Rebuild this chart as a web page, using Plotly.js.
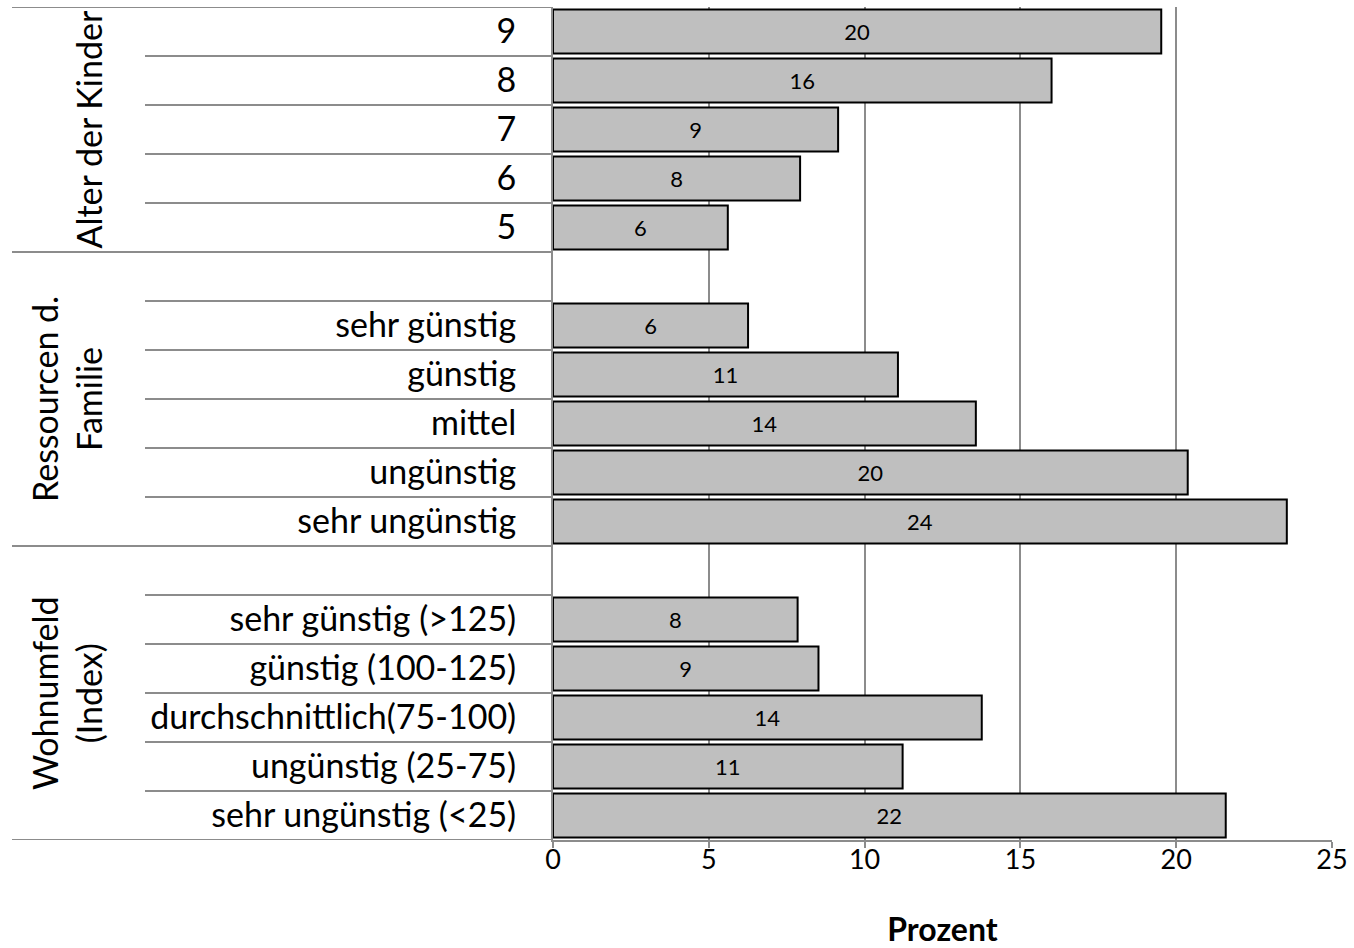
<!DOCTYPE html>
<html>
<head>
<meta charset="utf-8">
<script src="https://cdn.plot.ly/plotly-3.0.1.min.js"></script>
<style>
  html, body { margin: 0; padding: 0; background: #ffffff; }
  #chart { width: 1354px; height: 948px; }
</style>
</head>
<body>
<div id="chart"></div>
<script>
// Anteil (Prozent) nach Alter der Kinder, Ressourcen der Familie und Wohnumfeld
const alterLabels = ['9', '8', '7', '6', '5'];
const alterValues = [19.52, 16.0, 9.15, 7.93, 5.61];

const ressLabels = ['sehr günstig', 'günstig', 'mittel', 'ungünstig', 'sehr ungünstig'];
const ressValues = [6.26, 11.07, 13.57, 20.37, 23.55];

const wohnLabels = ['sehr günstig (>125)', 'günstig (100-125)', 'durchschnittlich(75-100)', 'ungünstig (25-75)', 'sehr ungünstig (<25)'];
const wohnValues = [7.85, 8.52, 13.76, 11.22, 21.59];

const groupTitles = ['Alter der Kinder', 'Ressourcen d.<br>Familie', 'Wohnumfeld<br>(Index)'];
const xTicks = [0, 5, 10, 15, 20, 25];
const xTitle = 'Prozent';

// ---- layout constants (pixels) ----
const W = 1354, H = 948;
const M = { l: 553, r: 22, t: 7, b: 108 };
const plotW = W - M.l - M.r;
const paperX = px => (px - M.l) / plotW;

const FONT = 'Lato, "Open Sans", "DejaVu Sans", sans-serif';
const LINE = '#8c8c8c';

// ---- row positions: one row per category, a blank row before each later group ----
const groupLabels = [alterLabels, ressLabels, wohnLabels];
const groupValues = [alterValues, ressValues, wohnValues];

const ys = [], xs = [], tickvals = [], ticktext = [];
const groupSpans = [];
let pos = 0;
groupLabels.forEach((labels, g) => {
  const start = pos - 0.5;
  if (g > 0) pos += 1;
  labels.forEach((lab, i) => {
    ys.push(pos);
    xs.push(groupValues[g][i]);
    tickvals.push(pos);
    ticktext.push(lab);
    pos += 1;
  });
  groupSpans.push([start, pos - 0.5]);
});

// ---- separator lines in the label area ----
const shapes = [];
const outerX0 = paperX(12), innerX0 = paperX(145), axisX = 0;
groupSpans.forEach(([a, b], g) => {
  if (g === 0) {
    shapes.push({ type: 'line', xref: 'paper', yref: 'y', x0: outerX0, x1: axisX, y0: a, y1: a,
                  line: { color: LINE, width: 2 } });
  }
  shapes.push({ type: 'line', xref: 'paper', yref: 'y', x0: outerX0, x1: axisX, y0: b, y1: b,
                line: { color: LINE, width: 2 } });
  for (let y = a + 1; y < b; y += 1) {
    shapes.push({ type: 'line', xref: 'paper', yref: 'y', x0: innerX0, x1: axisX, y0: y, y1: y,
                  line: { color: LINE, width: 2 } });
  }
});

// ---- rotated group titles ----
const annotations = groupTitles.map((t, g) => {
  const twoLines = t.indexOf('<br>') >= 0;
  return {
    xref: 'paper', yref: 'y',
    x: paperX(twoLines ? 66 : 88),
    y: (groupSpans[g][0] + groupSpans[g][1]) / 2,
    text: t, textangle: -90, showarrow: false,
    xanchor: 'center', yanchor: 'middle',
    font: { family: FONT, size: 34, color: '#000' }
  };
});

const trace = {
  type: 'bar', orientation: 'h',
  x: xs, y: ys, width: 0.9,
  marker: { color: '#bfbfbf', line: { color: '#000000', width: 2 } },
  texttemplate: '%{x:.0f}',
  textposition: 'inside', insidetextanchor: 'middle', textangle: 0,
  constraintext: 'none',
  textfont: { family: FONT, size: 22, color: '#000' },
  hoverinfo: 'x+text', showlegend: false
};

const layout = {
  width: W, height: H,
  margin: M,
  paper_bgcolor: '#ffffff', plot_bgcolor: '#ffffff',
  font: { family: FONT, color: '#000' },
  bargap: 0.1,
  xaxis: {
    range: [0, 25], tickvals: xTicks, ticktext: xTicks.map(String),
    showgrid: true, gridcolor: LINE, gridwidth: 2,
    zeroline: false, showline: true, linecolor: LINE, linewidth: 2,
    ticks: 'outside', ticklen: 6, tickcolor: LINE, tickwidth: 2,
    ticklabelstandoff: -11,
    tickfont: { family: FONT, size: 27, color: '#000' },
    title: { text: '<b>' + xTitle + '</b>', font: { family: FONT, size: 32, color: '#000' }, standoff: 53 }
  },
  yaxis: {
    range: [pos - 0.5, -0.5],
    tickvals: tickvals, ticktext: ticktext,
    showgrid: false, zeroline: false,
    showline: true, linecolor: LINE, linewidth: 2,
    ticks: '', ticklabelstandoff: 28,
    tickfont: { family: FONT, size: 34, color: '#000' }
  },
  shapes: shapes,
  annotations: annotations
};

Plotly.newPlot('chart', [trace], layout, { displayModeBar: false, staticPlot: true });
</script>
</body>
</html>
